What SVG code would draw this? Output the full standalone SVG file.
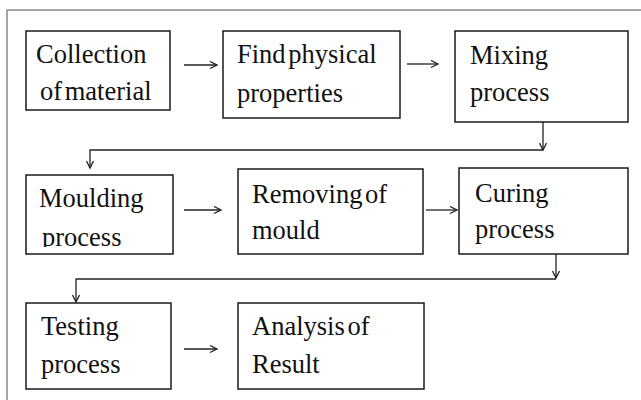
<svg xmlns="http://www.w3.org/2000/svg" width="641" height="400" viewBox="0 0 641 400">
<style>
.box{fill:#fff;stroke:#1a1a1a;stroke-width:1.5}
.t{font-family:'Liberation Serif','Times New Roman',serif;font-size:26.5px;fill:#111;word-spacing:-4px}
.c{fill:none;stroke:#222;stroke-width:1.3}
</style>
<defs>
<marker id="ah" markerWidth="10" markerHeight="10" refX="8" refY="4" orient="auto" markerUnits="userSpaceOnUse">
<path d="M1,0.5 L8,4 L1,7.5" fill="none" stroke="#222" stroke-width="1.3"/>
</marker>
<clipPath id="clip4"><rect x="26" y="175" width="147" height="72"/></clipPath>
</defs>
<rect x="0" y="0" width="641" height="400" fill="#fff"/>
<path d="M7,400 V10 H641" fill="none" stroke="#8a8a8a" stroke-width="1.5"/>
<g id="connectors">
<line class="c" x1="184" y1="65" x2="217" y2="65" marker-end="url(#ah)"/>
<line class="c" x1="407" y1="64" x2="438" y2="64" marker-end="url(#ah)"/>
<line class="c" x1="543" y1="122" x2="543" y2="150" marker-end="url(#ah)"/>
<polyline class="c" points="543,150 90,150 90,168" marker-end="url(#ah)"/>
<line class="c" x1="184" y1="210" x2="221" y2="210" marker-end="url(#ah)"/>
<line class="c" x1="426" y1="210" x2="457" y2="210" marker-end="url(#ah)"/>
<line class="c" x1="556" y1="254" x2="556" y2="278" marker-end="url(#ah)"/>
<polyline class="c" points="556,279 76,279 76,302" marker-end="url(#ah)"/>
<line class="c" x1="184" y1="349" x2="217" y2="349" marker-end="url(#ah)"/>
</g>
<g id="n1"><rect class="box" x="26" y="31" width="144" height="79"/><text class="t" x="36" y="63">Collection</text><text class="t" x="40" y="100">of material</text></g>
<g id="n2"><rect class="box" x="223" y="31" width="177" height="87"/><text class="t" x="237" y="63">Find physical</text><text class="t" x="237" y="102">properties</text></g>
<g id="n3"><rect class="box" x="455" y="31" width="173" height="91"/><text class="t" x="470" y="64">Mixing</text><text class="t" x="470" y="101">process</text></g>
<g id="n4"><rect class="box" x="26" y="175" width="147" height="79"/><g clip-path="url(#clip4)"><text class="t" x="39" y="207">Moulding</text><text class="t" x="42" y="246">process</text></g></g>
<g id="n5"><rect class="box" x="238" y="169" width="185" height="85"/><text class="t" x="252" y="203">Removing of</text><text class="t" x="252" y="239">mould</text></g>
<g id="n6"><rect class="box" x="459" y="168" width="169" height="86"/><text class="t" x="475" y="202">Curing</text><text class="t" x="475" y="238">process</text></g>
<g id="n7"><rect class="box" x="26" y="303" width="145" height="86"/><text class="t" x="41" y="335">Testing</text><text class="t" x="41" y="373">process</text></g>
<g id="n8"><rect class="box" x="238" y="303" width="186" height="86"/><text class="t" x="252" y="335">Analysis of</text><text class="t" x="252" y="373">Result</text></g>
</svg>
